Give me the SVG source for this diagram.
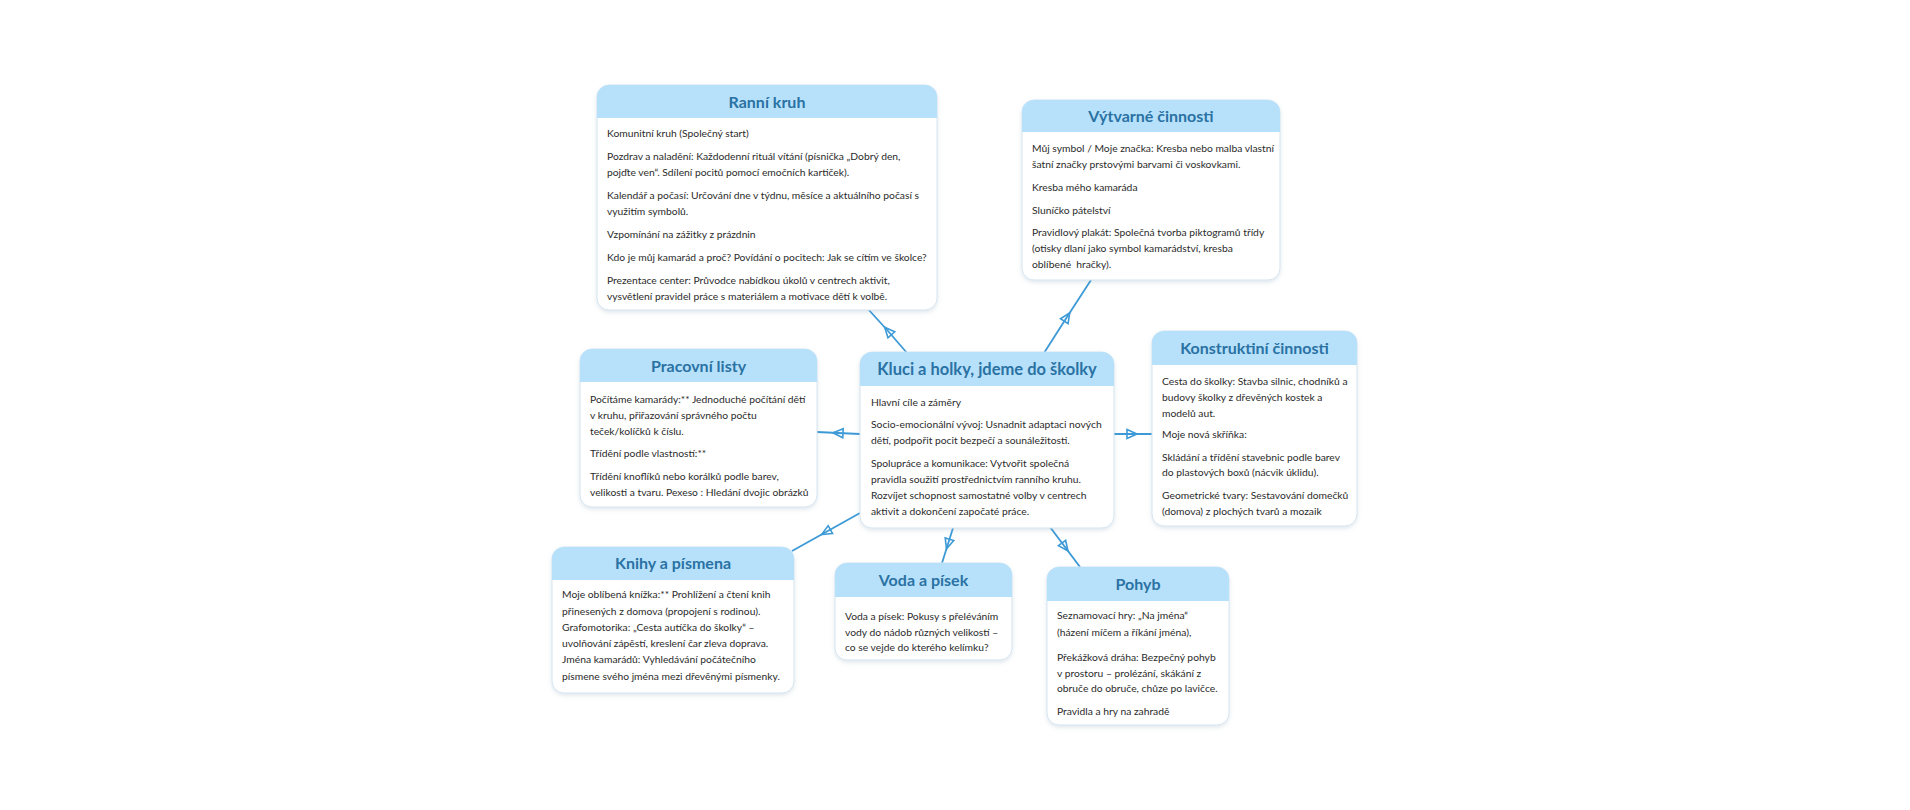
<svg xmlns="http://www.w3.org/2000/svg" width="1910" height="810" viewBox="0 0 1910 810">
<defs>
<style>
.box{fill:#ffffff;stroke:#d5e5f1;stroke-width:1;}
.hdr{fill:#b7e1fb;}
.title{font-family:Lato,"Noto Sans",sans-serif;font-weight:700;font-size:16px;fill:#2a72a3;text-anchor:middle;}
.big{font-size:16.5px;}
.body{font-family:Lato,"Noto Sans",sans-serif;font-size:10.3px;fill:#2b2b2b;}
.conn{fill:none;stroke:#3d9ad6;stroke-width:1.8;marker-mid:url(#arr);}
</style>
<marker id="arr" viewBox="-7 -6 14 12" refX="0" refY="0" markerWidth="14" markerHeight="12" markerUnits="userSpaceOnUse" orient="auto">
<path d="M-5,-4.5 L5,0 L-5,4.5 Z" fill="none" stroke="#3d9ad6" stroke-width="1.6" stroke-linejoin="miter"/>
</marker>
<filter id="sh" x="-10%" y="-10%" width="120%" height="130%">
<feDropShadow dx="0" dy="2" stdDeviation="2" flood-color="#7f9db5" flood-opacity="0.25"/>
</filter>
</defs>
<rect width="1910" height="810" fill="#ffffff"/>

<g id="connectors">
<path class="conn" d="M907,353 L888,331 L868,309"/>
<path class="conn" d="M1044,353 L1067,317 L1091,280"/>
<path class="conn" d="M860,434 L838,433 L817,432"/>
<path class="conn" d="M1114,434 L1132,434 L1152,434"/>
<path class="conn" d="M860,513 L826,532 L792,551"/>
<path class="conn" d="M953,528 L948,544 L942,563"/>
<path class="conn" d="M1050,527 L1065,547 L1080,567"/>
</g>

<g id="node-ranni-kruh">
<rect class="box" x="597" y="85" width="340" height="225" rx="12" filter="url(#sh)"/>
<path class="hdr" d="M597,118 V97 A12,12 0 0 1 609,85 H925 A12,12 0 0 1 937,97 V118 Z"/>
<text class="title" x="767" y="108">Ranní kruh</text>
<text class="body" x="607" y="137">Komunitní kruh (Společný start)</text>
<text class="body" x="607" y="160">Pozdrav a naladění: Každodenní rituál vítání (písnička „Dobrý den,</text>
<text class="body" x="607" y="176">pojďte ven“. Sdílení pocitů pomocí emočních kartiček).</text>
<text class="body" x="607" y="199">Kalendář a počasí: Určování dne v týdnu, měsíce a aktuálního počasí s</text>
<text class="body" x="607" y="215">využitím symbolů.</text>
<text class="body" x="607" y="238">Vzpomínání na zážitky z prázdnin</text>
<text class="body" x="607" y="261">Kdo je můj kamarád a proč? Povídání o pocitech: Jak se cítím ve školce?</text>
<text class="body" x="607" y="284">Prezentace center: Průvodce nabídkou úkolů v centrech aktivit,</text>
<text class="body" x="607" y="300">vysvětlení pravidel práce s materiálem a motivace dětí k volbě.</text>
</g>

<g id="node-vytvarne">
<rect class="box" x="1022" y="100" width="258" height="180" rx="12" filter="url(#sh)"/>
<path class="hdr" d="M1022,132 V112 A12,12 0 0 1 1034,100 H1268 A12,12 0 0 1 1280,112 V132 Z"/>
<text class="title" x="1151" y="122">Výtvarné činnosti</text>
<text class="body" x="1032" y="152">Můj symbol / Moje značka: Kresba nebo malba vlastní</text>
<text class="body" x="1032" y="168">šatní značky prstovými barvami či voskovkami.</text>
<text class="body" x="1032" y="191">Kresba mého kamaráda</text>
<text class="body" x="1032" y="214">Sluníčko pátelství</text>
<text class="body" x="1032" y="236">Pravidlový plakát: Společná tvorba piktogramů třídy</text>
<text class="body" x="1032" y="252">(otisky dlaní jako symbol kamarádství, kresba</text>
<text class="body" x="1032" y="268" style="white-space:pre">oblíbené  hračky).</text>
</g>

<g id="node-pracovni-listy">
<rect class="box" x="580" y="349" width="237" height="158" rx="12" filter="url(#sh)"/>
<path class="hdr" d="M580,382 V361 A12,12 0 0 1 592,349 H805 A12,12 0 0 1 817,361 V382 Z"/>
<text class="title" x="698.5" y="372">Pracovní listy</text>
<text class="body" x="590" y="403">Počítáme kamarády:** Jednoduché počítání dětí</text>
<text class="body" x="590" y="419">v kruhu, přiřazování správného počtu</text>
<text class="body" x="590" y="435">teček/kolíčků k číslu.</text>
<text class="body" x="590" y="457">Třídění podle vlastností:**</text>
<text class="body" x="590" y="480">Třídění knoflíků nebo korálků podle barev,</text>
<text class="body" x="590" y="496">velikosti a tvaru. Pexeso : Hledání dvojic obrázků</text>
</g>

<g id="node-center">
<rect class="box" x="860" y="352" width="254" height="176" rx="12" filter="url(#sh)"/>
<path class="hdr" d="M860,386 V364 A12,12 0 0 1 872,352 H1102 A12,12 0 0 1 1114,364 V386 Z"/>
<text class="title big" x="987" y="375">Kluci a holky, jdeme do školky</text>
<text class="body" x="871" y="406">Hlavní cíle a záměry</text>
<text class="body" x="871" y="428">Socio-emocionální vývoj: Usnadnit adaptaci nových</text>
<text class="body" x="871" y="444">dětí, podpořit pocit bezpečí a sounáležitosti.</text>
<text class="body" x="871" y="467">Spolupráce a komunikace: Vytvořit společná</text>
<text class="body" x="871" y="483">pravidla soužití prostřednictvím ranního kruhu.</text>
<text class="body" x="871" y="499">Rozvíjet schopnost samostatné volby v centrech</text>
<text class="body" x="871" y="515">aktivit a dokončení započaté práce.</text>
</g>

<g id="node-konstruktivni">
<rect class="box" x="1152" y="331" width="205" height="195" rx="12" filter="url(#sh)"/>
<path class="hdr" d="M1152,365 V343 A12,12 0 0 1 1164,331 H1345 A12,12 0 0 1 1357,343 V365 Z"/>
<text class="title" x="1254.5" y="354">Konstruktiní činnosti</text>
<text class="body" x="1162" y="385">Cesta do školky: Stavba silnic, chodníků a</text>
<text class="body" x="1162" y="401">budovy školky z dřevěných kostek a</text>
<text class="body" x="1162" y="417">modelů aut.</text>
<text class="body" x="1162" y="438">Moje nová skříňka:</text>
<text class="body" x="1162" y="461">Skládání a třídění stavebnic podle barev</text>
<text class="body" x="1162" y="476">do plastových boxů (nácvik úklidu).</text>
<text class="body" x="1162" y="499">Geometrické tvary: Sestavování domečků</text>
<text class="body" x="1162" y="515">(domova) z plochých tvarů a mozaik</text>
</g>

<g id="node-knihy">
<rect class="box" x="552" y="547" width="242" height="146" rx="12" filter="url(#sh)"/>
<path class="hdr" d="M552,580 V559 A12,12 0 0 1 564,547 H782 A12,12 0 0 1 794,559 V580 Z"/>
<text class="title" x="673" y="569">Knihy a písmena</text>
<text class="body" x="562" y="598">Moje oblíbená knížka:** Prohlížení a čtení knih</text>
<text class="body" x="562" y="615">přinesených z domova (propojení s rodinou).</text>
<text class="body" x="562" y="631">Grafomotorika: „Cesta autíčka do školky“ –</text>
<text class="body" x="562" y="647">uvolňování zápěstí, kreslení čar zleva doprava.</text>
<text class="body" x="562" y="663">Jména kamarádů: Vyhledávání počátečního</text>
<text class="body" x="562" y="680">písmene svého jména mezi dřevěnými písmenky.</text>
</g>

<g id="node-voda">
<rect class="box" x="835" y="563" width="177" height="97" rx="12" filter="url(#sh)"/>
<path class="hdr" d="M835,597 V575 A12,12 0 0 1 847,563 H1000 A12,12 0 0 1 1012,575 V597 Z"/>
<text class="title" x="923.5" y="586">Voda a písek</text>
<text class="body" x="845" y="620">Voda a písek: Pokusy s přeléváním</text>
<text class="body" x="845" y="636">vody do nádob různých velikostí –</text>
<text class="body" x="845" y="651">co se vejde do kterého kelímku?</text>
</g>

<g id="node-pohyb">
<rect class="box" x="1047" y="567" width="182" height="158" rx="12" filter="url(#sh)"/>
<path class="hdr" d="M1047,601 V579 A12,12 0 0 1 1059,567 H1217 A12,12 0 0 1 1229,579 V601 Z"/>
<text class="title" x="1138" y="590">Pohyb</text>
<text class="body" x="1057" y="619">Seznamovací hry: „Na jména“</text>
<text class="body" x="1057" y="636">(házení míčem a říkání jména),</text>
<text class="body" x="1057" y="661">Překážková dráha: Bezpečný pohyb</text>
<text class="body" x="1057" y="677">v prostoru – prolézání, skákání z</text>
<text class="body" x="1057" y="692">obruče do obruče, chůze po lavičce.</text>
<text class="body" x="1057" y="715">Pravidla a hry na zahradě</text>
</g>
</svg>
